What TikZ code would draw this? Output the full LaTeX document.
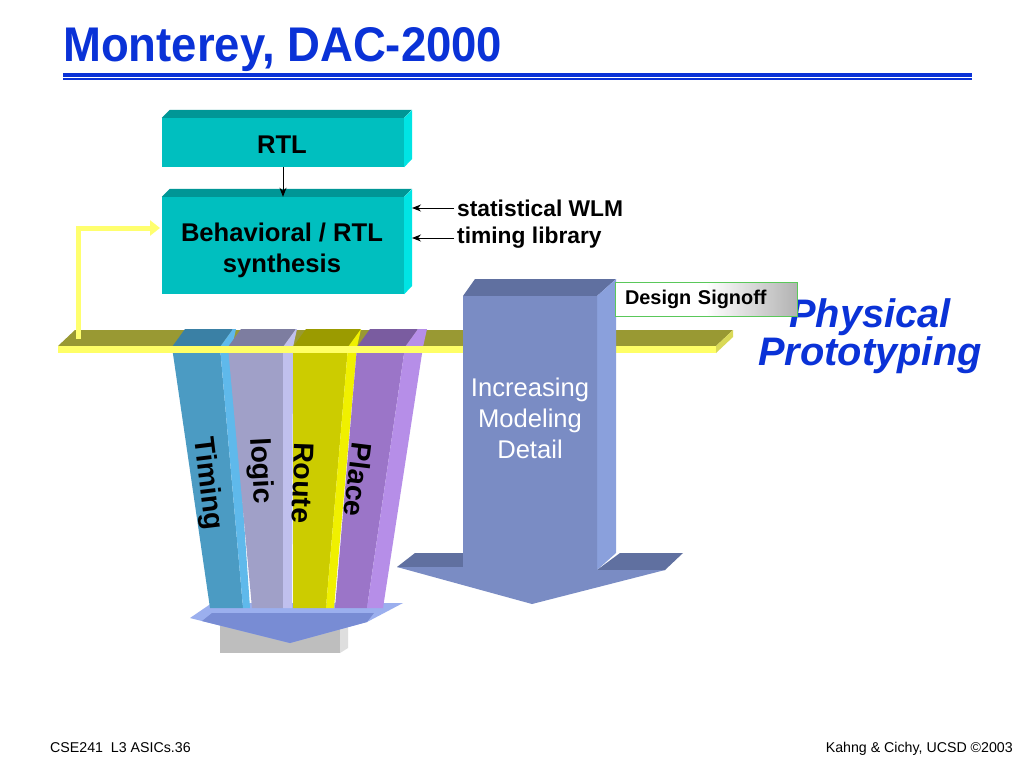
\documentclass[tikz,border=0pt]{standalone}
\usepackage{fontspec}
\setmainfont{Liberation Sans}
\usetikzlibrary{arrows.meta}
\definecolor{titleblue}{RGB}{10,50,215}
\definecolor{tealfront}{RGB}{0,191,191}
\definecolor{tealtop}{RGB}{0,150,150}
\definecolor{tealside}{RGB}{0,228,228}
\definecolor{barolive}{RGB}{153,153,51}
\definecolor{baryellow}{RGB}{255,255,102}
\definecolor{fbyellow}{RGB}{255,255,110}
\definecolor{tmfront}{RGB}{75,155,195}
\definecolor{tmside}{RGB}{95,185,235}
\definecolor{tmtop}{RGB}{58,128,165}
\definecolor{lgfront}{RGB}{160,160,200}
\definecolor{lgside}{RGB}{192,192,238}
\definecolor{lgtop}{RGB}{125,125,160}
\definecolor{rtfront}{RGB}{204,204,0}
\definecolor{rtside}{RGB}{240,240,0}
\definecolor{rttop}{RGB}{155,155,0}
\definecolor{plfront}{RGB}{155,117,200}
\definecolor{plside}{RGB}{182,142,232}
\definecolor{pltop}{RGB}{122,92,160}
\definecolor{arfront}{RGB}{122,140,196}
\definecolor{artop}{RGB}{96,112,160}
\definecolor{arside}{RGB}{138,160,220}
\definecolor{platetop}{RGB}{155,175,238}
\definecolor{platefront}{RGB}{120,140,212}
\definecolor{graybox}{RGB}{190,190,190}
\definecolor{grayside}{RGB}{222,222,222}
\definecolor{signgreen}{RGB}{90,200,90}
\newcommand\drawcol[9]{%
  \fill[#8] (#1,347) -- (#2,347) -- (#5,608) -- (#4,608) -- cycle;
  \fill[#9] (#2,347) -- (#3,347) -- (#6,608) -- (#5,608) -- cycle;
  \fill[#7] (#1,347) -- (#1+13,329) -- (#2+13,329) -- (#2,347) -- cycle;
  \fill[#9] (#2,347) -- (#2+13,329) -- (#3+4,329) -- (#3,347) -- cycle;
}
\begin{document}
\begin{tikzpicture}[x=1pt,y=-1pt,
  boxfront/.style={fill=tealfront, inner sep=0pt},
  boxtext/.style={inner sep=0pt, align=center,
    font=\fontsize{25.6}{31}\selectfont\bfseries},
  lbl/.style={anchor=west, inner sep=0pt, font=\fontsize{22.8}{26}\selectfont\bfseries},
  coltext/.style={inner sep=0pt, font=\fontsize{28.4}{32}\selectfont\bfseries},
  thinarrow/.style={-{Stealth[length=9pt,width=7pt]}, line width=1pt, black},
  feedback/.style={draw=fbyellow, line width=5pt, -{Triangle[length=10pt,width=15pt]}},
  foot/.style={inner sep=0pt, font=\fontsize{14.2}{16}\selectfont}
]
\useasboundingbox (0,0) rectangle (1024,768);
\fill[white] (0,0) rectangle (1024,768);

% title
\node[anchor=base west, inner sep=0pt, text=titleblue, yscale=1.07,
  font=\fontsize{45.5}{50}\selectfont\bfseries] (title) at (63,62) {Monterey, DAC-2000};
\draw[titleblue, line width=4pt] (63,74.5) -- (972,74.5);
\draw[titleblue, line width=1.6pt] (63,79) -- (972,79);

% RTL box
\node[boxfront, minimum width=242pt, minimum height=49pt] (rtl) at (283,142.5) {};
\fill[tealtop] (rtl.north west) -- ++(8,-8) -- ++(242,0) -- (rtl.north east) -- cycle;
\fill[tealside] (rtl.north east) -- ++(8,-8) -- ++(0,49) -- (rtl.south east) -- cycle;
\node[boxtext] (rtltext) at (282,145) {RTL};

% Behavioral box
\node[boxfront, minimum width=242pt, minimum height=97pt] (beh) at (283,245.5) {};
\fill[tealtop] (beh.north west) -- ++(8,-8) -- ++(242,0) -- (beh.north east) -- cycle;
\fill[tealside] (beh.north east) -- ++(8,-8) -- ++(0,97) -- (beh.south east) -- cycle;
\node[boxtext] (behtext) at (282,250) {Behavioral / RTL\\synthesis};

\draw[thinarrow] (rtl.south) -- (beh.north);

% labels
\coordinate (behside) at (412,0);
\node[lbl] (wlm) at (457,208) {statistical WLM};
\node[lbl] (tlib) at (457,238) {timing library};
\draw[thinarrow] (wlm.west) ++(-3,0) -- (wlm.west -| behside);
\draw[thinarrow] (tlib.west) ++(-3,0) -- (tlib.west -| behside);

% bar top
\fill[barolive] (58,346) -- (75,330) -- (733,330) -- (716,346) -- cycle;

% feedback
\coordinate (fbstart) at (78,339);
\coordinate (fbend) at (160,228);
\draw[feedback] (fbstart) |- (fbend);

% base under columns
\fill[graybox] (220,618) rectangle (340,653);
\fill[grayside] (340,618) -- (348,613) -- (348,648) -- (340,653) -- cycle;
\fill[platetop] (190,618) -- (212,603) -- (403,603) -- (367,622) -- (290,643) -- cycle;
\fill[platefront] (212,613) -- (374,613) -- (367,622) -- (290,643) -- (202,621) -- cycle;

% columns
\drawcol{172}{220}{232}{210}{243}{250}{tmtop}{tmfront}{tmside}
\drawcol{228}{283}{293}{252}{283}{292}{lgtop}{lgfront}{lgside}
\drawcol{293}{348}{357}{293}{326}{334}{rttop}{rtfront}{rtside}
\drawcol{357}{405}{423}{335}{367}{383}{pltop}{plfront}{plside}

\node[coltext, rotate=-83] (timing) at (207,484) {Timing};
\node[coltext, rotate=-87] (logic) at (260,471) {logic};
\node[coltext, rotate=-92] (route) at (303,483) {Route};
\node[coltext, rotate=-97] (place) at (358,480) {Place};

% bar front
\fill[baryellow] (58,346) rectangle (716,353);
\fill[baryellow!85!black] (716,346) -- (733,330) -- (733,337) -- (716,353) -- cycle;

% big arrow
\fill[artop] (463,296) -- (475,279) -- (616,279) -- (597,296) -- cycle;
\fill[arside] (597,296) -- (616,279) -- (616,553) -- (597,570) -- cycle;
\fill[artop] (397,567) -- (415,553) -- (463,553) -- (463,567) -- cycle;
\fill[artop] (597,570) -- (620,553) -- (683,553) -- (665,570) -- cycle;
\fill[arfront] (463,296) -- (597,296) -- (597,570) -- (665,570) -- (532,604)
  -- (397,567) -- (463,567) -- cycle;
\node[text=white, align=center, inner sep=0pt,
  font=\fontsize{25.6}{31}\selectfont] (incr) at (530,418) {Increasing\\Modeling\\Detail};

% physical prototyping
\node[text=titleblue, align=center, inner sep=0pt,
  font=\fontsize{39.8}{38}\selectfont\bfseries\itshape] (phys) at (870,336) {Physical\\Prototyping};

% design signoff
\node[draw=signgreen, line width=0.8pt, left color=white, right color=black!30,
  middle color=white, minimum width=182pt, minimum height=34pt,
  text width=162pt, align=left, inner xsep=10pt,
  font=\fontsize{19.9}{22}\selectfont\bfseries] (signoff) at (706,299) {Design Signoff};

% footer
\node[foot, anchor=base west] (footl) at (50,752) {CSE241\ \ L3 ASICs.36};
\node[foot, anchor=base east] (footr) at (1013,752) {Kahng \& Cichy, UCSD ©2003};
\end{tikzpicture}
\end{document}
